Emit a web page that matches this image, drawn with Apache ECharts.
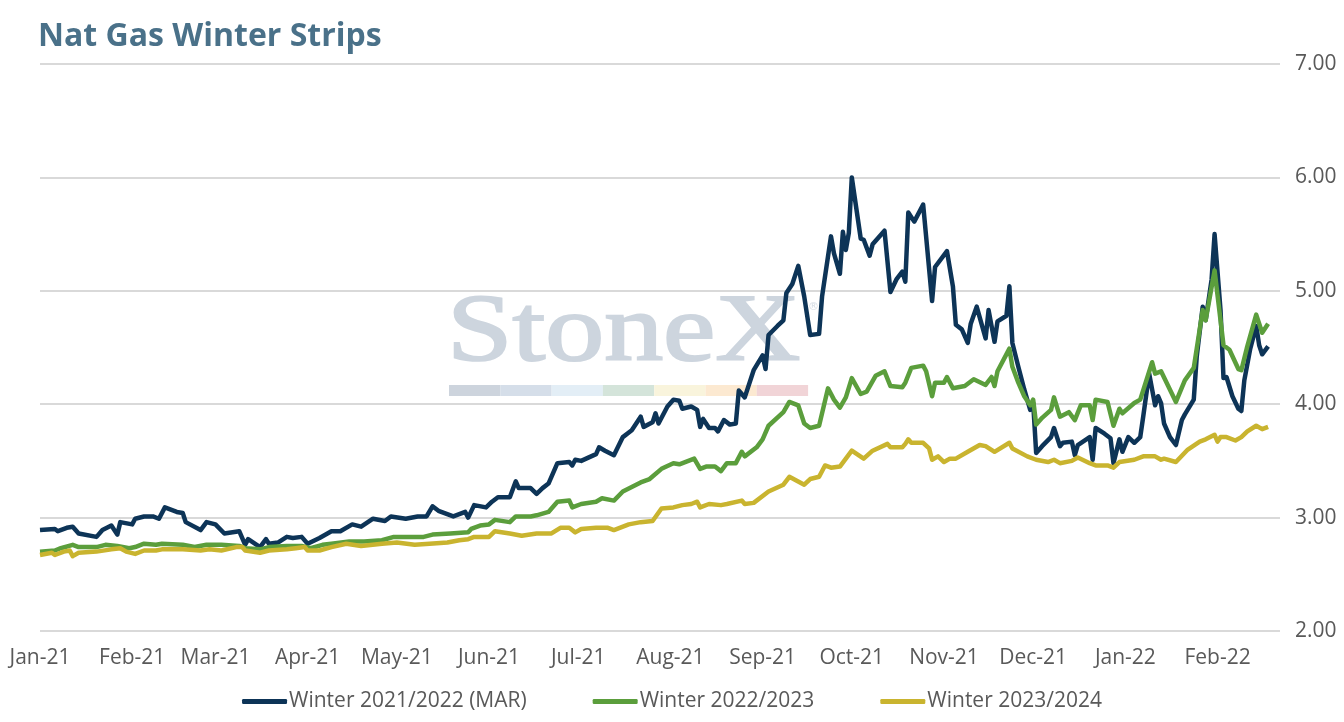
<!DOCTYPE html>
<html>
<head>
<meta charset="utf-8">
<title>Nat Gas Winter Strips</title>
<script src="https://cdn.jsdelivr.net/npm/echarts@6/dist/echarts.min.js"></script>
<style>
html, body { margin: 0; padding: 0; background: #ffffff; }
#chart { width: 1344px; height: 722px; }
</style>
</head>
<body>
<div id="chart"></div>
<script>
// Winter 2021/2022 (MAR)
var w2122Dates = ['2021-01-01','2021-01-06','2021-01-07','2021-01-10','2021-01-12','2021-01-14','2021-01-20','2021-01-22','2021-01-25','2021-01-27','2021-01-28',
  '2021-02-01','2021-02-02','2021-02-05','2021-02-08','2021-02-10','2021-02-12','2021-02-16','2021-02-18','2021-02-19','2021-02-24','2021-02-26',
  '2021-03-01','2021-03-04','2021-03-09','2021-03-11','2021-03-12','2021-03-16','2021-03-18','2021-03-19','2021-03-22','2021-03-25','2021-03-27','2021-03-30',
  '2021-04-01','2021-04-05','2021-04-09','2021-04-12','2021-04-16','2021-04-19','2021-04-23','2021-04-27','2021-04-29',
  '2021-05-04','2021-05-08','2021-05-11','2021-05-13','2021-05-15','2021-05-20','2021-05-24','2021-05-25','2021-05-27','2021-05-31',
  '2021-06-02','2021-06-04','2021-06-08','2021-06-10','2021-06-11','2021-06-15','2021-06-17','2021-06-19','2021-06-21','2021-06-24','2021-06-28','2021-06-29','2021-06-30',
  '2021-07-02','2021-07-07','2021-07-08','2021-07-10','2021-07-13','2021-07-16','2021-07-19','2021-07-22','2021-07-23','2021-07-26','2021-07-27','2021-07-28','2021-07-31',
  '2021-08-02','2021-08-04','2021-08-05','2021-08-08','2021-08-10','2021-08-11','2021-08-12','2021-08-14','2021-08-16','2021-08-17','2021-08-19','2021-08-21','2021-08-23','2021-08-24','2021-08-26','2021-08-29',
  '2021-09-01','2021-09-02','2021-09-03','2021-09-06','2021-09-08','2021-09-09','2021-09-11','2021-09-13','2021-09-15','2021-09-17','2021-09-20','2021-09-21','2021-09-24','2021-09-25','2021-09-27','2021-09-28','2021-09-29','2021-09-30',
  '2021-10-01','2021-10-04','2021-10-05','2021-10-07','2021-10-08','2021-10-12','2021-10-14','2021-10-16','2021-10-18','2021-10-19','2021-10-20','2021-10-22','2021-10-25','2021-10-28','2021-10-29',
  '2021-11-02','2021-11-04','2021-11-05','2021-11-07','2021-11-09','2021-11-10','2021-11-12','2021-11-15','2021-11-16','2021-11-18','2021-11-19','2021-11-22','2021-11-23','2021-11-24','2021-11-26','2021-11-28','2021-11-30',
  '2021-12-01','2021-12-02','2021-12-04','2021-12-07','2021-12-08','2021-12-10','2021-12-11','2021-12-14','2021-12-15','2021-12-16','2021-12-20','2021-12-21','2021-12-22','2021-12-25','2021-12-27','2021-12-28','2021-12-30','2021-12-31',
  '2022-01-02','2022-01-04','2022-01-06','2022-01-07','2022-01-09','2022-01-11','2022-01-12','2022-01-13','2022-01-14','2022-01-16','2022-01-18','2022-01-20','2022-01-21','2022-01-24','2022-01-25','2022-01-27','2022-01-28','2022-01-30','2022-01-31',
  '2022-02-02','2022-02-03','2022-02-04','2022-02-06','2022-02-08','2022-02-09','2022-02-10','2022-02-12','2022-02-14','2022-02-15','2022-02-16','2022-02-18'];
var w2122Values = [2.89,2.90,2.88,2.91,2.92,2.86,2.83,2.89,2.93,2.85,2.96,
  2.94,2.99,3.01,3.01,2.99,3.09,3.05,3.04,2.96,2.89,2.96,
  2.94,2.86,2.88,2.76,2.81,2.74,2.81,2.77,2.78,2.83,2.82,2.83,
  2.77,2.82,2.88,2.88,2.94,2.92,2.99,2.97,3.01,
  2.99,3.01,3.01,3.10,3.06,3.01,3.05,3.00,3.11,3.09,
  3.14,3.18,3.18,3.32,3.26,3.26,3.21,3.26,3.30,3.48,3.49,3.46,3.51,
  3.50,3.56,3.62,3.59,3.55,3.71,3.77,3.89,3.80,3.84,3.92,3.83,3.98,
  4.04,4.03,3.96,3.98,3.95,3.80,3.87,3.79,3.79,3.76,3.86,3.82,3.83,4.12,4.06,4.30,
  4.43,4.31,4.61,4.69,4.74,4.98,5.06,5.22,4.95,4.61,4.62,4.95,5.48,5.33,5.15,5.52,5.36,5.51,
  6.00,5.46,5.45,5.31,5.41,5.53,4.99,5.10,5.17,5.08,5.69,5.61,5.76,4.91,5.21,
  5.35,5.04,4.70,4.66,4.54,4.71,4.86,4.58,4.83,4.55,4.73,4.78,5.04,4.54,4.33,4.13,3.95,
  4.01,3.57,3.63,3.71,3.79,3.63,3.66,3.67,3.55,3.64,3.71,3.51,3.79,3.74,3.70,3.48,3.69,3.58,
  3.71,3.66,3.71,3.89,4.27,3.99,4.07,4.01,3.83,3.71,3.64,3.86,3.91,4.04,4.42,4.86,4.74,5.10,5.50,
  4.83,4.23,4.24,4.07,3.96,3.94,4.21,4.49,4.69,4.52,4.44,4.51];

// Winter 2022/2023
var w2223Dates = ['2021-01-01','2021-01-06','2021-01-08','2021-01-12','2021-01-14','2021-01-20','2021-01-23','2021-01-27','2021-01-31',
  '2021-02-02','2021-02-05','2021-02-09','2021-02-11','2021-02-18','2021-02-22','2021-02-26',
  '2021-03-03','2021-03-09','2021-03-11','2021-03-16','2021-03-19','2021-03-25','2021-03-30',
  '2021-04-02','2021-04-06','2021-04-09','2021-04-15','2021-04-20','2021-04-26','2021-04-30',
  '2021-05-10','2021-05-13','2021-05-19','2021-05-25','2021-05-26','2021-05-29',
  '2021-06-01','2021-06-03','2021-06-08','2021-06-10','2021-06-15','2021-06-17','2021-06-21','2021-06-24','2021-06-28','2021-06-29',
  '2021-07-02','2021-07-07','2021-07-09','2021-07-13','2021-07-16','2021-07-22','2021-07-25','2021-07-29',
  '2021-08-02','2021-08-04','2021-08-09','2021-08-11','2021-08-13','2021-08-16','2021-08-18','2021-08-20','2021-08-23','2021-08-25','2021-08-26','2021-08-30',
  '2021-09-01','2021-09-03','2021-09-08','2021-09-10','2021-09-13','2021-09-15','2021-09-17','2021-09-20','2021-09-23','2021-09-25','2021-09-27','2021-09-29',
  '2021-10-01','2021-10-04','2021-10-06','2021-10-09','2021-10-12','2021-10-14','2021-10-18','2021-10-19','2021-10-21','2021-10-25','2021-10-26','2021-10-28','2021-10-29',
  '2021-11-01','2021-11-02','2021-11-04','2021-11-08','2021-11-11','2021-11-15','2021-11-17','2021-11-18','2021-11-19','2021-11-23','2021-11-24','2021-11-26','2021-11-28','2021-11-30',
  '2021-12-01','2021-12-02','2021-12-04','2021-12-07','2021-12-08','2021-12-10','2021-12-13','2021-12-15','2021-12-17','2021-12-20','2021-12-21','2021-12-22','2021-12-26','2021-12-28','2021-12-30','2021-12-31',
  '2022-01-04','2022-01-06','2022-01-10','2022-01-11','2022-01-13','2022-01-18','2022-01-21','2022-01-24','2022-01-27','2022-01-28','2022-01-31',
  '2022-02-03','2022-02-05','2022-02-08','2022-02-09','2022-02-11','2022-02-14','2022-02-16','2022-02-18'];
var w2223Values = [2.70,2.71,2.73,2.76,2.74,2.74,2.76,2.75,2.73,
  2.74,2.77,2.76,2.77,2.76,2.74,2.76,
  2.76,2.75,2.73,2.72,2.74,2.75,2.75,
  2.73,2.76,2.77,2.79,2.79,2.80,2.83,
  2.83,2.85,2.86,2.87,2.90,2.93,
  2.94,2.98,2.96,3.01,3.01,3.02,3.05,3.14,3.15,3.09,
  3.12,3.14,3.17,3.15,3.23,3.31,3.34,3.43,
  3.48,3.47,3.52,3.43,3.45,3.45,3.41,3.48,3.48,3.58,3.54,3.62,
  3.69,3.81,3.93,4.02,3.99,3.83,3.79,3.81,4.14,4.04,3.97,4.06,
  4.23,4.09,4.11,4.25,4.29,4.16,4.15,4.19,4.32,4.34,4.29,4.07,4.19,
  4.19,4.24,4.14,4.16,4.22,4.17,4.24,4.16,4.29,4.49,4.33,4.19,4.07,3.99,
  4.04,3.82,3.88,3.95,4.06,3.89,3.93,3.86,3.99,3.99,3.86,4.04,4.02,3.81,3.96,3.92,
  4.01,4.04,4.37,4.27,4.29,4.02,4.21,4.32,4.83,4.74,5.18,
  4.52,4.48,4.31,4.30,4.51,4.79,4.63,4.71];

// Winter 2023/2024
var w2324Dates = ['2021-01-01','2021-01-05','2021-01-06','2021-01-09','2021-01-11','2021-01-12','2021-01-14','2021-01-20','2021-01-25','2021-01-28','2021-01-30',
  '2021-02-02','2021-02-05','2021-02-09','2021-02-11','2021-02-18','2021-02-24','2021-02-27',
  '2021-03-03','2021-03-08','2021-03-10','2021-03-11','2021-03-16','2021-03-19','2021-03-25','2021-03-28','2021-03-31',
  '2021-04-01','2021-04-05','2021-04-09','2021-04-14','2021-04-19','2021-04-26',
  '2021-05-01','2021-05-07','2021-05-12','2021-05-18','2021-05-22','2021-05-25','2021-05-27',
  '2021-06-01','2021-06-03','2021-06-08','2021-06-12','2021-06-17','2021-06-22','2021-06-25','2021-06-28','2021-06-30',
  '2021-07-02','2021-07-07','2021-07-11','2021-07-13','2021-07-18','2021-07-22','2021-07-26','2021-07-29',
  '2021-08-02','2021-08-05','2021-08-08','2021-08-10','2021-08-11','2021-08-14','2021-08-18','2021-08-20','2021-08-25','2021-08-26','2021-08-29',
  '2021-09-03','2021-09-08','2021-09-10','2021-09-15','2021-09-17','2021-09-20','2021-09-22','2021-09-24','2021-09-27',
  '2021-10-01','2021-10-05','2021-10-08','2021-10-13','2021-10-14','2021-10-18','2021-10-19','2021-10-20','2021-10-21','2021-10-25','2021-10-27','2021-10-28','2021-10-30',
  '2021-11-01','2021-11-03','2021-11-05','2021-11-09','2021-11-13','2021-11-15','2021-11-18','2021-11-23','2021-11-24','2021-11-29',
  '2021-12-02','2021-12-06','2021-12-08','2021-12-10','2021-12-14','2021-12-16','2021-12-20','2021-12-22','2021-12-26','2021-12-28','2021-12-30',
  '2022-01-04','2022-01-07','2022-01-11','2022-01-13','2022-01-14','2022-01-18','2022-01-22','2022-01-26','2022-01-28','2022-01-31',
  '2022-02-01','2022-02-02','2022-02-04','2022-02-07','2022-02-09','2022-02-11','2022-02-14','2022-02-16','2022-02-18'];
var w2324Values = [2.67,2.69,2.67,2.70,2.71,2.66,2.69,2.70,2.72,2.73,2.70,
  2.68,2.71,2.71,2.72,2.72,2.71,2.72,
  2.71,2.74,2.74,2.71,2.69,2.71,2.72,2.73,2.74,
  2.71,2.71,2.74,2.77,2.75,2.77,
  2.78,2.76,2.77,2.78,2.80,2.81,2.83,
  2.83,2.88,2.86,2.84,2.86,2.86,2.91,2.91,2.87,
  2.90,2.91,2.91,2.89,2.94,2.96,2.97,3.08,
  3.09,3.11,3.12,3.14,3.09,3.12,3.11,3.12,3.15,3.12,3.13,
  3.23,3.29,3.36,3.29,3.34,3.36,3.46,3.44,3.45,
  3.59,3.52,3.59,3.65,3.62,3.62,3.65,3.69,3.66,3.66,3.61,3.51,3.54,
  3.49,3.52,3.52,3.58,3.64,3.63,3.58,3.66,3.61,3.54,
  3.51,3.49,3.51,3.48,3.50,3.53,3.48,3.46,3.46,3.44,3.49,
  3.51,3.54,3.54,3.51,3.52,3.49,3.60,3.67,3.69,3.73,
  3.67,3.71,3.71,3.68,3.71,3.76,3.81,3.78,3.80];

var yTicks = [2, 3, 4, 5, 6, 7];
var legendNames = ['Winter 2021/2022 (MAR)', 'Winter 2022/2023', 'Winter 2023/2024'];
var lineColors = ['#0d3457', '#5b9e3c', '#c9b42f'];

function pairUp(dates, values) {
  return dates.map(function (d, i) { return [d, values[i]]; });
}

// watermark bar colours
var stripColors = ['#cdd4dd', '#d5dee9', '#e3eef6', '#d4e4da', '#f9f4dc', '#fce9d1', '#f1d4d7'];
var stripGraphics = stripColors.map(function (c, i) {
  return {
    type: 'rect', z: 0, silent: true,
    shape: { x: 449 + i * 51.3, y: 385, width: 51.3, height: 11 },
    style: { fill: c }
  };
});

var chart = echarts.init(document.getElementById('chart'));
var labelFont = '"Open Sans", Lato, sans-serif';
var option = {
  animation: false,
  backgroundColor: '#ffffff',
  title: {
    text: 'Nat Gas Winter Strips',
    left: 33, top: 16,
    textStyle: { color: '#4a7189', fontSize: 32, fontWeight: 'bold', fontFamily: labelFont }
  },
  graphic: [{
    type: 'text', z: 0, silent: true,
    x: 447, y: 288, scaleX: 1.24,
    style: {
      text: 'StoneX', fill: '#cdd5de',
      stroke: '#cdd5de', lineWidth: 2,
      font: '95px "Liberation Serif", "DejaVu Serif", serif'
    }
  }, {
    type: 'text', z: 0, silent: true,
    x: 808, y: 302,
    style: { text: '®', fill: '#d5dce4', font: '11px "DejaVu Sans", sans-serif' }
  }].concat(stripGraphics),
  legend: {
    data: legendNames,
    bottom: 5,
    left: 'center',
    icon: 'roundRect',
    itemWidth: 45,
    itemHeight: 5,
    itemGap: 66,
    textStyle: { color: '#595959', fontSize: 21, fontFamily: labelFont, padding: [0, 0, 0, -3] }
  },
  grid: { left: 40, right: 64, top: 64, bottom: 91 },
  xAxis: {
    type: 'time',
    min: '2021-01-01',
    max: '2022-02-22',
    minInterval: 28 * 24 * 3600 * 1000,
    maxInterval: 31 * 24 * 3600 * 1000,
    axisLine: { show: false },
    axisTick: { show: false },
    splitLine: { show: false },
    axisLabel: {
      formatter: '{MMM}-{yy}',
      color: '#595959', fontSize: 21, fontFamily: labelFont, margin: 17,
      hideOverlap: false
    }
  },
  yAxis: {
    type: 'value',
    position: 'right',
    min: 2, max: 7, interval: 1,
    axisLine: { show: false },
    axisTick: { show: false },
    splitLine: { lineStyle: { color: '#d9d9d9', width: 2 } },
    axisLabel: {
      formatter: function (v) { return v.toFixed(2); },
      color: '#595959', fontSize: 21, fontFamily: labelFont, margin: 15,
      customValues: yTicks
    }
  },
  series: [{
    name: legendNames[0], type: 'line', z: 3,
    showSymbol: false, symbol: 'none',
    lineStyle: { color: lineColors[0], width: 4.5, join: 'round' },
    itemStyle: { color: lineColors[0] },
    data: pairUp(w2122Dates, w2122Values)
  }, {
    name: legendNames[1], type: 'line', z: 4,
    showSymbol: false, symbol: 'none',
    lineStyle: { color: lineColors[1], width: 4.5, join: 'round' },
    itemStyle: { color: lineColors[1] },
    data: pairUp(w2223Dates, w2223Values)
  }, {
    name: legendNames[2], type: 'line', z: 5,
    showSymbol: false, symbol: 'none',
    lineStyle: { color: lineColors[2], width: 4.5, join: 'round' },
    itemStyle: { color: lineColors[2] },
    data: pairUp(w2324Dates, w2324Values)
  }]
};
chart.setOption(option);
</script>
</body>
</html>
